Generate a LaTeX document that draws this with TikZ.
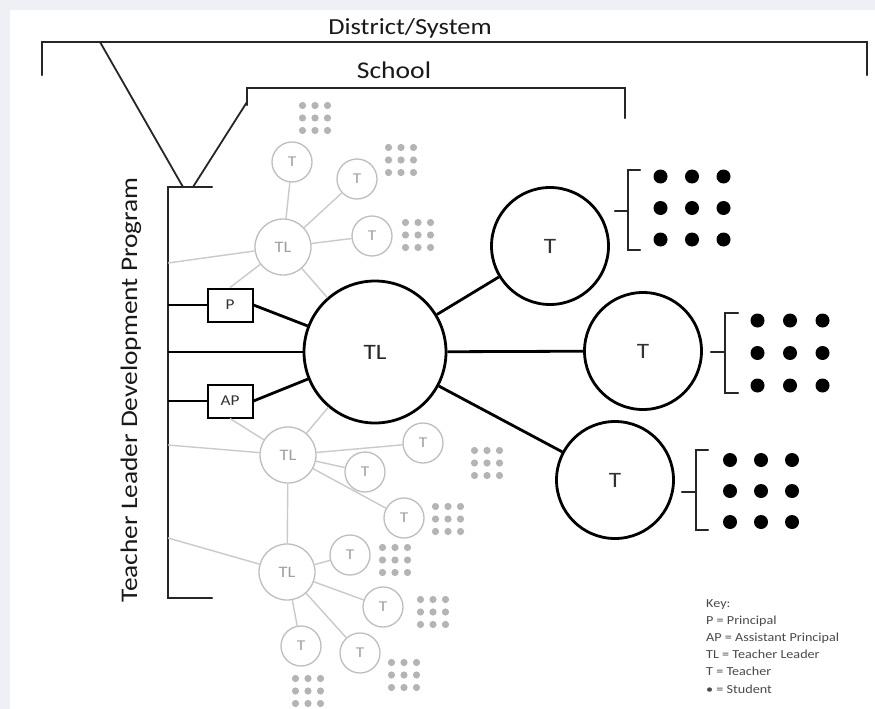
\documentclass[tikz,border=0pt]{standalone}
\usepackage{fontspec}
\setmainfont[FakeStretch=1.15]{Carlito}
\definecolor{bgc}{HTML}{EEF0F5}
\definecolor{gline}{HTML}{CACACA}
\definecolor{gcirc}{HTML}{BEBEBE}
\definecolor{gtext}{HTML}{A0A0A0}
\definecolor{gdot}{HTML}{B4B4B4}
\definecolor{keyc}{HTML}{4A4A4A}
\newcommand\mydotgrid[5]{%
  \foreach \ii in {-1,0,1}{\foreach \jj in {-1,0,1}{%
    \fill[#5] ({#1+\ii*#3},{#2+\jj*#3}) circle (#4);}}}
\begin{document}
\begin{tikzpicture}[x=1pt,y=-1pt,
  brk/.style={line width=2.2pt, line cap=round, line join=miter, black!85},
  thk/.style={line width=2.8pt, black},
  bigc/.style={circle, draw=black, line width=2.8pt, fill=white, minimum size=142pt, inner sep=0pt, font=\fontsize{22}{22}\selectfont, text=black!85},
  bigt/.style={circle, draw=black, line width=2.8pt, fill=white, minimum size=117pt, inner sep=0pt, font=\fontsize{22}{22}\selectfont, text=black!80},
  boxn/.style={rectangle, draw=black, line width=2pt, fill=white, minimum width=45pt, minimum height=33pt, inner sep=0pt, font=\fontsize{15}{15}\selectfont, text=black!80},
  gtl/.style={circle, draw=gcirc, line width=1.3pt, fill=white, minimum size=56pt, inner sep=0pt, font=\fontsize{16}{16}\selectfont, text=gtext},
  gt/.style={circle, draw=gcirc, line width=1.3pt, fill=white, minimum size=40pt, inner sep=0pt, font=\fontsize{15}{15}\selectfont, text=gtext},
  gl/.style={draw=gline, line width=1.4pt},
  lbl/.style={text=black!90, inner sep=0pt}
]
\fill[bgc] (0,0) rectangle (875,709);
\fill[white] (10,10) rectangle (875,709);
\useasboundingbox (0,0) rectangle (875,709);

% labels
\node[lbl, font=\fontsize{23}{23}\selectfont] (dist) at (410,28) {District/System};
\node[lbl, font=\fontsize{24}{24}\selectfont] (school) at (394,70) {School};
\node[lbl, rotate=90, font=\fontsize{23.8}{24}\selectfont] (tldp) at (131,390) {Teacher Leader Development Program};

% brackets
\draw[brk] (42,75) -- (42,42) -- (867,42) -- (867,75);
\draw[brk] (247,105) -- (247,88) -- (625,88) -- (625,118);
\draw[brk] (212,187) -- (168,187) -- (168,598) -- (212,598);
\coordinate (dA) at (100,42);
\coordinate (tA) at (183,187);
\coordinate (tB) at (193,187);
\coordinate (sA) at (247,102);
\draw[line width=1.8pt, black!85] (dA) -- (tA);
\draw[line width=1.8pt, black!85] (tB) -- (sA);

\coordinate (bP) at (168,305);
\coordinate (bM) at (168,352);
\coordinate (bA) at (168,401);
\coordinate (bg1) at (168,263);
\coordinate (bg2) at (168,445);
\coordinate (bg3) at (168,538);

% gray nodes
\node[gtl] (gTLa) at (283,247) {TL};
\node[gtl] (gTLb) at (288,455) {TL};
\node[gtl] (gTLc) at (287,572) {TL};
\node[gt] (gT1) at (292,162) {T};
\node[gt] (gT2) at (357,179) {T};
\node[gt] (gT3) at (372,236) {T};
\node[gt] (gT4) at (423,443) {T};
\node[gt] (gT5) at (365,472) {T};
\node[gt] (gT6) at (404,518) {T};
\node[gt] (gT7) at (350,555) {T};
\node[gt] (gT8) at (383,607) {T};
\node[gt] (gT9) at (301,646) {T};
\node[gt] (gT10) at (360,653) {T};

% black nodes
\node[bigc] (TL) at (375,352) {TL};
\node[bigt] (T1) at (550,246) {T};
\node[bigt] (T2) at (643,351) {T};
\node[bigt] (T3) at (615,480) {T};
\node[boxn] (P) at (230,305) {P};
\node[boxn] (AP) at (230,401) {AP};

% gray connectors
\draw[gl] (bg1) -- (gTLa);
\draw[gl] (gTLa) -- (gT1);
\draw[gl] (gTLa) -- (gT2);
\draw[gl] (gTLa) -- (gT3);
\draw[gl] (gTLa) -- (P.north);
\draw[gl] (gTLa) -- (TL);
\draw[gl] (bg2) -- (gTLb);
\draw[gl] (gTLb) -- (AP.south);
\draw[gl] (gTLb) -- (TL);
\draw[gl] (gTLb) -- (gT4);
\draw[gl] (gTLb) -- (gT5);
\draw[gl] (gTLb) -- (gT6);
\draw[gl] (gTLb) -- (gTLc);
\draw[gl] (bg3) -- (gTLc);
\draw[gl] (gTLc) -- (gT7);
\draw[gl] (gTLc) -- (gT8);
\draw[gl] (gTLc) -- (gT9);
\draw[gl] (gTLc) -- (gT10);

% gray student grids
\mydotgrid{315}{118}{12.5}{3.6pt}{gdot}
\mydotgrid{401}{160}{12.5}{3.6pt}{gdot}
\mydotgrid{418}{235}{12.5}{3.6pt}{gdot}
\mydotgrid{487}{463}{12.5}{3.6pt}{gdot}
\mydotgrid{448}{519}{12.5}{3.6pt}{gdot}
\mydotgrid{395}{560}{12.5}{3.6pt}{gdot}
\mydotgrid{433}{612}{12.5}{3.6pt}{gdot}
\mydotgrid{404}{675}{12.5}{3.6pt}{gdot}
\mydotgrid{308}{691}{12.5}{3.6pt}{gdot}

% black connectors
\draw[thk] (bP) -- (P);
\draw[thk] (bM) -- (TL);
\draw[thk] (bA) -- (AP);
\draw[thk] (P.east) -- (TL);
\draw[thk] (AP.east) -- (TL);
\draw[thk] (TL) -- (T1);
\draw[thk] (TL) -- (T2);
\draw[thk] (TL) -- (T3);

% student brackets
\draw[brk] (615,211) -- (628,211);
\draw[brk] (640,170) -- (628,170) -- (628,250) -- (640,250);
\draw[brk] (711,352) -- (725,352);
\draw[brk] (738,313) -- (725,313) -- (725,393) -- (738,393);
\draw[brk] (682,492) -- (696,492);
\draw[brk] (708,450) -- (696,450) -- (696,530) -- (708,530);

% black student grids
\mydotgrid{692}{208}{31.5}{7pt}{black}
\mydotgrid{790}{353}{32.5}{7pt}{black}
\mydotgrid{761}{491}{31}{7pt}{black}

% key
\node[anchor=north west, align=left, inner sep=0pt, text=keyc,
      font=\fontsize{12.3}{17.2}\selectfont] (key) at (706,599)
 {Key:\\P = Principal\\AP = Assistant Principal\\TL = Teacher Leader\\T = Teacher\\• = Student};
\end{tikzpicture}
\end{document}
